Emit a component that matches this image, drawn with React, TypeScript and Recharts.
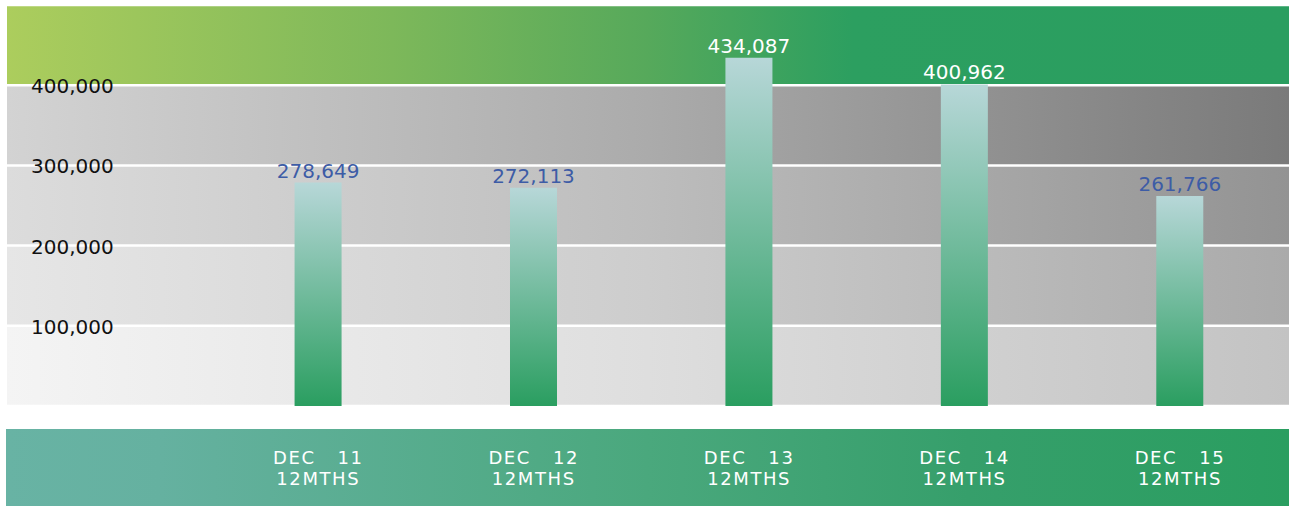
import React from 'react';
import { BarChart, Bar, XAxis, YAxis, CartesianGrid, LabelList } from 'recharts';

const categories = ['DEC   11', 'DEC   12', 'DEC   13', 'DEC   14', 'DEC   15'];
const periodLabels = ['12MTHS', '12MTHS', '12MTHS', '12MTHS', '12MTHS'];
const values = [278649, 272113, 434087, 400962, 261766];
const yTicks = [100000, 200000, 300000, 400000, 500000];
const yLabelledTicks = [100000, 200000, 300000, 400000];
const xTicks = [1, 2, 3, 4, 5];

const data = categories.map((c, i) => ({ pos: i + 1, label: c, value: values[i] }));

const FONT = '"DejaVu Sans", sans-serif';

const fmt = (v: number) => v.toLocaleString('en-US');

const XTick = (props: any) => {
  const { x, y, payload } = props;
  const i = Math.round(payload.value) - 1;
  if (i < 0 || i >= categories.length) return null;
  return (
    <g>
      <text x={x} y={y + 58} textAnchor="middle" fill="#ffffff" fontSize={18} letterSpacing={1.6} fontFamily={FONT} style={{ whiteSpace: 'pre' }}>
        {categories[i]}
      </text>
      <text x={x} y={y + 79} textAnchor="middle" fill="#ffffff" fontSize={18} letterSpacing={1.6} fontFamily={FONT}>
        {periodLabels[i]}
      </text>
    </g>
  );
};

const YTick = (props: any) => {
  const { y, payload } = props;
  if (!yLabelledTicks.includes(Number(payload.value))) return <g />;
  return (
    <text x={31} y={y} dy={8} textAnchor="start" fill="#111111" fontSize={20} fontFamily={FONT}>
      {fmt(Number(payload.value))}
    </text>
  );
};

const ValueLabel = (props: any) => {
  const { x, y, width, value } = props;
  const inGreen = value >= 380000;
  return (
    <text x={x + width / 2} y={y - 5} textAnchor="middle" fill={inGreen ? '#ffffff' : '#3d5ca6'} fontSize={20} fontFamily={FONT}>
      {fmt(value)}
    </text>
  );
};

export default function App() {
  return (
    <div style={{ position: 'absolute', left: 0, top: 0, width: 1289, height: 506, fontFamily: FONT }}>
      <div
        style={{
          position: 'absolute',
          left: 6,
          top: 429,
          width: 1283,
          height: 77,
          background: 'linear-gradient(to right, #68b3a4 0%, #65b1a0 12%, #4aa87d 50%, #369f6b 75%, #2a9e60 100%)',
        }}
      />
      <div style={{ position: 'absolute', left: 0, top: 0 }}>
        <BarChart width={1289} height={506} data={data} margin={{ top: 5, right: 0, left: 7, bottom: 0 }}>
          <defs>
            <linearGradient id="gTop" x1="0" y1="0" x2="1" y2="0">
              <stop offset="0%" stopColor="#accd5d" />
              <stop offset="30%" stopColor="#7db85a" />
              <stop offset="50%" stopColor="#56a95b" />
              <stop offset="66%" stopColor="#2c9f60" />
              <stop offset="100%" stopColor="#2a9e60" />
            </linearGradient>
            <linearGradient id="gB1" x1="0" y1="0" x2="1" y2="0">
              <stop offset="0%" stopColor="#d3d3d3" />
              <stop offset="50%" stopColor="#ababab" />
              <stop offset="100%" stopColor="#7a7a7a" />
            </linearGradient>
            <linearGradient id="gB2" x1="0" y1="0" x2="1" y2="0">
              <stop offset="0%" stopColor="#dcdcdc" />
              <stop offset="50%" stopColor="#bdbdbd" />
              <stop offset="100%" stopColor="#939393" />
            </linearGradient>
            <linearGradient id="gB3" x1="0" y1="0" x2="1" y2="0">
              <stop offset="0%" stopColor="#e6e6e6" />
              <stop offset="50%" stopColor="#cdcdcd" />
              <stop offset="100%" stopColor="#aaaaaa" />
            </linearGradient>
            <linearGradient id="gB4" x1="0" y1="0" x2="1" y2="0">
              <stop offset="0%" stopColor="#f4f4f4" />
              <stop offset="50%" stopColor="#dedede" />
              <stop offset="100%" stopColor="#c3c3c3" />
            </linearGradient>
            <linearGradient id="gBar" x1="0" y1="0" x2="0" y2="1">
              <stop offset="0%" stopColor="#b7d7d8" />
              <stop offset="100%" stopColor="#2a9e60" />
            </linearGradient>
          </defs>
          <CartesianGrid
            vertical={false}
            stroke="#ffffff"
            strokeWidth={2.5}
            strokeOpacity={1}
            fillOpacity={1}
            horizontalFill={['url(#gTop)', 'url(#gB1)', 'url(#gB2)', 'url(#gB3)', 'url(#gB4)']}
          />
          <XAxis
            dataKey="pos"
            type="number"
            domain={[-0.445, 5.506]}
            ticks={xTicks}
            interval={0}
            height={100}
            axisLine={false}
            tickLine={false}
            tickSize={0}
            tickMargin={0}
            tick={<XTick />}
          />
          <YAxis
            type="number"
            domain={[0, 500000]}
            ticks={yTicks}
            interval={0}
            width={1}
            mirror
            axisLine={false}
            tickLine={false}
            tick={YTick}
          />
          <Bar dataKey="value" barSize={47} fill="url(#gBar)" isAnimationActive={false}>
            <LabelList dataKey="value" content={<ValueLabel />} />
          </Bar>
        </BarChart>
      </div>
    </div>
  );
}
